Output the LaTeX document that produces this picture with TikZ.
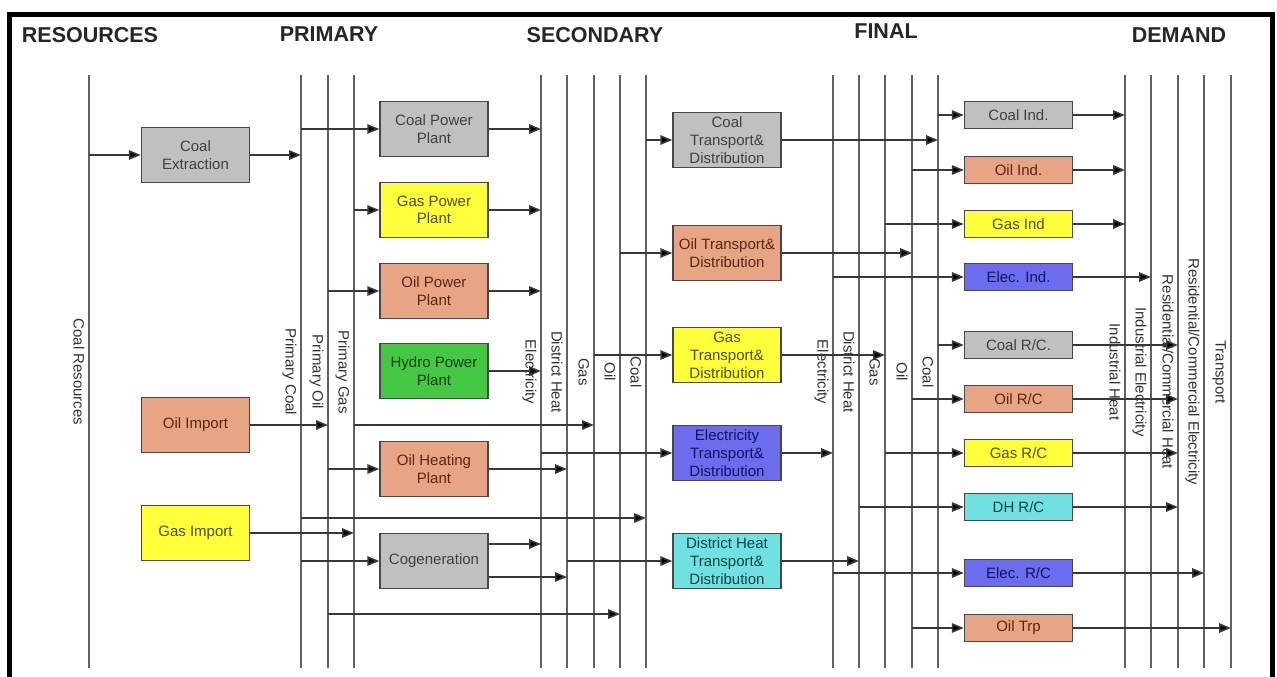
\documentclass[tikz,border=0pt]{standalone}
\usepackage{fontspec}
\setmainfont{Liberation Sans}
\usetikzlibrary{arrows.meta}
\definecolor{bxgray}{HTML}{C0C0C0}
\definecolor{bxyellow}{HTML}{FFFF3A}
\definecolor{bxsalmon}{HTML}{E8A586}
\definecolor{bxgreen}{HTML}{44C844}
\definecolor{bxblue}{HTML}{6C6CEE}
\definecolor{bxcyan}{HTML}{70E0E0}
\definecolor{txgray}{HTML}{404040}
\definecolor{txyellow}{HTML}{4E4E00}
\definecolor{txsalmon}{HTML}{5E2410}
\definecolor{txgreen}{HTML}{0C400C}
\definecolor{txblue}{HTML}{14145E}
\definecolor{txcyan}{HTML}{0C4646}
\newcommand\boxfont{\fontsize{15}{17.5}\selectfont}
\newcommand\titlefont{\fontsize{21.5}{24}\selectfont\bfseries}
\begin{document}
\begin{tikzpicture}[x=1pt,y=-1pt,
  bus/.style={draw=black!62,line width=1.5pt},
  flow/.style={draw=black!78,line width=1.6pt,-{Triangle[length=12pt,width=9.5pt,fill=black]}},
  blk/.style={draw=black!72,line width=1.4pt,minimum width=108pt,minimum height=55pt,inner sep=0pt,align=center,font=\boxfont},
  sblk/.style={blk,minimum height=27.5pt},
  cgray/.style={fill=bxgray,text=txgray},
  cyellow/.style={fill=bxyellow,text=txyellow},
  csalmon/.style={fill=bxsalmon,text=txsalmon},
  cgreen/.style={fill=bxgreen,text=txgreen},
  cblue/.style={fill=bxblue,text=txblue},
  ccyan/.style={fill=bxcyan,text=txcyan},
  vlab/.style={rotate=-90,font=\boxfont,inner sep=0pt,text height=11pt,text depth=3pt,text=black!80},
  ttl/.style={font=\titlefont,inner sep=0pt,text=black!85}
]
\useasboundingbox (0,0) rectangle (1277,677);
\fill[white] (0,0) rectangle (1277,677);
% frame
\draw[line width=4.5pt,line join=miter] (9.5,677) -- (9.5,14.5) -- (1272.5,14.5) -- (1272.5,677);
% titles
\node[ttl] (tRes) at (90,35) {RESOURCES};
\node[ttl] (tPri) at (329,34) {PRIMARY};
\node[ttl] (tSec) at (595,35) {SECONDARY};
\node[ttl] (tFin) at (886,31) {FINAL};
\node[ttl] (tDem) at (1179,35) {DEMAND};
% vertical bus lines
\foreach \n/\x in {CR/89,PC/301,PO/328,PG/354,SE/541,SH/567,SG/594,SO/620,SC/646,FE/833,FH/859,FG/885,FO/912,FC/938,DIH/1125,DIE/1151,DRH/1178,DRE/1204,DT/1231}{
  \coordinate (\n) at (\x,75);
  \coordinate (\n b) at (\x,668);
  \draw[bus] (\n) -- (\n b);
}
% vertical labels
\node[vlab] (lCR) at (77.5,372) {Coal Resources};
\node[vlab] (lPC) at (289.5,372) {Primary Coal};
\node[vlab] (lPO) at (316.5,372) {Primary Oil};
\node[vlab] (lPG) at (342.5,372) {Primary Gas};
\node[vlab] (lSE) at (529.5,372) {Electricity};
\node[vlab] (lSH) at (555.5,372) {District Heat};
\node[vlab] (lSG) at (582.5,372) {Gas};
\node[vlab] (lSO) at (608.5,372) {Oil};
\node[vlab] (lSC) at (634.5,372) {Coal};
\node[vlab] (lFE) at (821.5,372) {Electricity};
\node[vlab] (lFH) at (847.5,372) {District Heat};
\node[vlab] (lFG) at (873.5,372) {Gas};
\node[vlab] (lFO) at (900.5,372) {Oil};
\node[vlab] (lFC) at (926.5,372) {Coal};
\node[vlab] (lDIH) at (1113.5,372) {Industrial Heat};
\node[vlab] (lDIE) at (1139.5,372) {Industrial Electricity};
\node[vlab] (lDRH) at (1166.5,372) {Residential/Commercial Heat};
\node[vlab] (lDRE) at (1192.5,372) {Residential/Commercial Electricity};
\node[vlab] (lDT) at (1219.5,372) {Transport};
% row coordinates
\coordinate (r518) at (0,518);
\coordinate (r544) at (0,544);
\coordinate (r577) at (0,577);
\coordinate (r614) at (0,614);
% boxes: resources
\node[blk,cgray] (CE) at (195.5,155) {Coal\\Extraction};
\node[blk,csalmon] (OI) at (195.5,425) {Oil Import};
\node[blk,cyellow] (GI) at (195.5,533) {Gas Import};
% primary conversion
\node[blk,cgray] (CPP) at (434,129) {Coal Power\\Plant};
\node[blk,cyellow] (GPP) at (434,210) {Gas Power\\Plant};
\node[blk,csalmon] (OPP) at (434,291) {Oil Power\\Plant};
\node[blk,cgreen] (HPP) at (434,371) {Hydro Power\\Plant};
\node[blk,csalmon] (OHP) at (434,469) {Oil Heating\\Plant};
\node[blk,cgray] (COG) at (434,561) {Cogeneration};
% transport & distribution
\node[blk,cgray,font=\fontsize{15}{18}\selectfont] (CTD) at (727,140) {Coal\\Transport\&\\Distribution};
\node[blk,csalmon] (OTD) at (727,253) {Oil Transport\&\\Distribution};
\node[blk,cyellow,font=\fontsize{15}{18}\selectfont] (GTD) at (727,355) {Gas\\Transport\&\\Distribution};
\node[blk,cblue,font=\fontsize{15}{18}\selectfont] (ETD) at (727,453) {Electricity\\Transport\&\\Distribution};
\node[blk,ccyan,font=\fontsize{15}{18}\selectfont] (DTD) at (727,561) {District Heat\\Transport\&\\Distribution};
% final
\node[sblk,cgray] (CIN) at (1018.5,115) {Coal Ind.};
\node[sblk,csalmon] (OIN) at (1018.5,170) {Oil Ind.};
\node[sblk,cyellow] (GIN) at (1018.5,224) {Gas Ind};
\node[sblk,cblue] (EIN) at (1018.5,277) {Elec. Ind.};
\node[sblk,cgray] (CRC) at (1018.5,345) {Coal R/C.};
\node[sblk,csalmon] (ORC) at (1018.5,399) {Oil R/C};
\node[sblk,cyellow] (GRC) at (1018.5,453) {Gas R/C};
\node[sblk,ccyan] (DRC) at (1018.5,507) {DH R/C};
\node[sblk,cblue] (ERC) at (1018.5,573) {Elec. R/C};
\node[sblk,csalmon] (OTR) at (1018.5,628) {Oil Trp};
% flows: resources -> primary
\draw[flow] (CE.west -| CR) -- (CE.west);
\draw[flow] (CE.east) -- (CE.east -| PC);
\draw[flow] (OI.east) -- (OI.east -| PO);
\draw[flow] (GI.east) -- (GI.east -| PG);
% primary -> plants
\draw[flow] (CPP.west -| PC) -- (CPP.west);
\draw[flow] (GPP.west -| PG) -- (GPP.west);
\draw[flow] (OPP.west -| PO) -- (OPP.west);
\draw[flow] (OHP.west -| PO) -- (OHP.west);
\draw[flow] (COG.west -| PC) -- (COG.west);
% plants -> secondary
\draw[flow] (CPP.east) -- (CPP.east -| SE);
\draw[flow] (GPP.east) -- (GPP.east -| SE);
\draw[flow] (OPP.east) -- (OPP.east -| SE);
\draw[flow] (HPP.east) -- (HPP.east -| SE);
\draw[flow] (OHP.east) -- (OHP.east -| SH);
\draw[flow] (r544 -| COG.east) -- (r544 -| SE);
\draw[flow] (r577 -| COG.east) -- (r577 -| SH);
% primary direct -> secondary
\draw[flow] (OI.east -| PG) -- (OI.east -| SG);
\draw[flow] (r518 -| PC) -- (r518 -| SC);
\draw[flow] (r614 -| PO) -- (r614 -| SO);
% secondary -> T&D
\draw[flow] (CTD.west -| SC) -- (CTD.west);
\draw[flow] (OTD.west -| SO) -- (OTD.west);
\draw[flow] (GTD.west -| SG) -- (GTD.west);
\draw[flow] (ETD.west -| SE) -- (ETD.west);
\draw[flow] (DTD.west -| SH) -- (DTD.west);
% T&D -> final
\draw[flow] (CTD.east) -- (CTD.east -| FC);
\draw[flow] (OTD.east) -- (OTD.east -| FO);
\draw[flow] (GTD.east) -- (GTD.east -| FG);
\draw[flow] (ETD.east) -- (ETD.east -| FE);
\draw[flow] (DTD.east) -- (DTD.east -| FH);
% final -> demand technologies
\draw[flow] (CIN.west -| FC) -- (CIN.west);
\draw[flow] (OIN.west -| FO) -- (OIN.west);
\draw[flow] (GIN.west -| FG) -- (GIN.west);
\draw[flow] (EIN.west -| FE) -- (EIN.west);
\draw[flow] (CRC.west -| FC) -- (CRC.west);
\draw[flow] (ORC.west -| FO) -- (ORC.west);
\draw[flow] (GRC.west -| FG) -- (GRC.west);
\draw[flow] (DRC.west -| FH) -- (DRC.west);
\draw[flow] (ERC.west -| FE) -- (ERC.west);
\draw[flow] (OTR.west -| FO) -- (OTR.west);
% demand technologies -> demand
\draw[flow] (CIN.east) -- (CIN.east -| DIH);
\draw[flow] (OIN.east) -- (OIN.east -| DIH);
\draw[flow] (GIN.east) -- (GIN.east -| DIH);
\draw[flow] (EIN.east) -- (EIN.east -| DIE);
\draw[flow] (CRC.east) -- (CRC.east -| DRH);
\draw[flow] (ORC.east) -- (ORC.east -| DRH);
\draw[flow] (GRC.east) -- (GRC.east -| DRH);
\draw[flow] (DRC.east) -- (DRC.east -| DRH);
\draw[flow] (ERC.east) -- (ERC.east -| DRE);
\draw[flow] (OTR.east) -- (OTR.east -| DT);
\end{tikzpicture}
\end{document}
